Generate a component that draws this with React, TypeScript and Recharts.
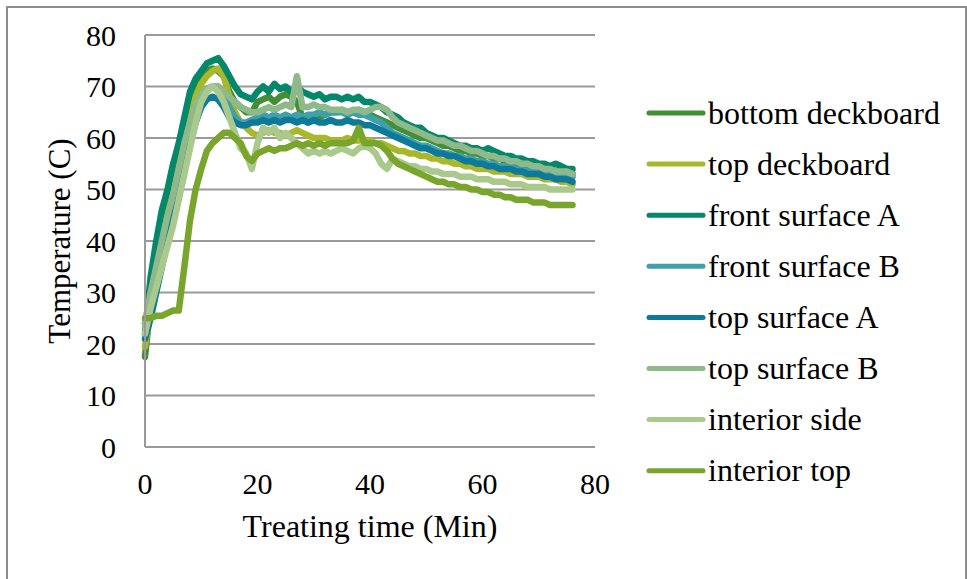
import { LineChart, Line, XAxis, YAxis, CartesianGrid, Legend } from "recharts"

// treating time, minutes
const minutes = [
  0, 1, 2, 3, 4, 5, 6, 7, 8, 9, 10, 11, 12, 13, 14, 15, 16, 17, 18, 19,
  20, 21, 22, 23, 24, 25, 26, 27, 28, 29, 30, 31, 32, 33, 34, 35, 36, 37, 38, 39,
  40, 41, 42, 43, 44, 45, 46, 47, 48, 49, 50, 51, 52, 53, 54, 55, 56, 57, 58, 59,
  60, 61, 62, 63, 64, 65, 66, 67, 68, 69, 70, 71, 72, 73, 74, 75, 76,
]

// temperatures (C) per thermocouple
const bottomDeckboard = [
  17.5, 28, 35, 42, 47, 52, 57, 62, 67, 70, 72, 73, 73.5, 73, 72, 69, 67, 66, 65, 65,
  67, 67.5, 68, 67, 68, 68.5, 68, 67, 64, 63, 63.5, 64, 64.5, 65, 65, 65.5, 65, 65, 65.5, 65,
  64.5, 64, 63.5, 63, 62.5, 62, 61.5, 61, 60.5, 60, 60, 59.5, 59, 58.5, 58.5, 58, 57.5, 57.5, 57, 57,
  56.5, 56.5, 56, 56, 55.5, 55.5, 55, 55, 54.5, 54.5, 54, 54, 54, 53.5, 53.5, 53, 53,
]
const topDeckboard = [
  19.5, 27, 33, 39, 44, 49, 54, 59, 64, 68, 70.5, 72, 73, 73.5, 72, 68, 65, 63, 62, 61,
  60.5, 61, 61.5, 61, 61, 60.5, 61, 61.5, 61, 60.5, 60, 60, 60, 59.5, 59.5, 59.5, 60, 59.5, 59.5, 59.5,
  59.5, 59, 59, 58.5, 58, 57.5, 57.5, 57, 57, 56.5, 56.5, 56, 56, 55.5, 55.5, 55, 55, 54.5, 54.5, 54,
  54, 54, 53.5, 53.5, 53.5, 53, 53, 53, 52.5, 52.5, 52.5, 52, 52, 52, 51.5, 51.5, 51,
]
const frontSurfaceA = [
  22, 33, 40, 46, 50, 55, 59, 64, 69, 71.5, 73, 74.5, 75, 75.5, 74, 72, 70, 68.5, 68, 67.5,
  69, 70, 69, 70.5, 69.5, 70, 69, 70, 69, 68.5, 68, 68.5, 67.5, 68, 68, 67.5, 68, 67.5, 68, 67,
  67, 66.5, 66, 65, 64.5, 64, 63, 62.5, 62, 62, 61, 60.5, 60, 60, 59.5, 59, 58.5, 58.5, 58, 58,
  57.5, 58, 57.5, 57, 56.5, 56.5, 56, 56, 55.5, 55.5, 55, 55, 54.5, 55, 54.5, 54, 54,
]
const frontSurfaceB = [
  24, 28, 33, 38, 43, 47, 52, 57, 62, 66, 68.5, 69.5, 70, 70, 68, 66, 64, 63, 63, 63.5,
  64, 64.5, 64, 64.5, 64, 64.5, 64, 64.5, 64, 64.5, 64.5, 65, 64.5, 65, 65, 65, 64.5, 65, 64.5, 64.5,
  64, 63.5, 63, 62, 61, 60.5, 60, 59.5, 59, 58.5, 58.5, 58, 57.5, 57, 57, 56.5, 56.5, 56, 56, 55.5,
  55.5, 55, 55, 54.5, 54.5, 54.5, 54, 54, 53.5, 53.5, 53.5, 53, 53, 53, 52.5, 52.5, 52.5,
]
const topSurfaceA = [
  21, 25, 30, 35, 40, 44, 49, 54, 59, 63, 66, 67.5, 68, 67.5, 66, 64, 63, 62.5, 62.5, 63,
  63, 63.5, 63, 63.5, 63, 63.5, 63.5, 63, 63.5, 63, 63.5, 63, 63, 63.5, 63, 63, 63.5, 63, 63, 62.5,
  62.5, 62, 61.5, 61, 60.5, 60, 59.5, 59, 58.5, 58, 58, 57.5, 57, 57, 56.5, 56.5, 56, 55.5, 55.5, 55,
  55, 54.5, 54.5, 54, 54, 54, 53.5, 53.5, 53, 53, 53, 52.5, 52.5, 52, 52, 52, 51.5,
]
const topSurfaceB = [
  24, 30, 35, 40, 45, 49, 54, 59, 63, 66.5, 68.5, 69.5, 70, 70, 69, 68, 67, 66, 65.5, 65,
  65, 65.5, 66, 65.5, 66, 66.5, 66, 72, 66, 66, 66.5, 66, 66, 65.5, 65.5, 65.5, 65, 65.5, 65.5, 65,
  65.5, 66, 66, 65.5, 64, 63, 62.5, 62, 61.5, 61, 60.5, 60, 59.5, 59.5, 59, 58.5, 58.5, 58, 57.5, 57.5,
  57, 56.5, 56.5, 56, 56, 55.5, 55.5, 55, 55, 54.5, 54.5, 54, 54, 53.5, 53.5, 53.5, 53,
]
const interiorSide = [
  22, 27, 31, 35, 39, 43, 48, 53, 58, 63, 67, 69, 70, 69, 67, 64, 61, 58, 57, 54,
  59, 62, 61, 62, 60, 61, 60, 59, 58, 57, 57.5, 57, 57.5, 57, 57.5, 58, 57.5, 57, 58, 58.5,
  58, 57, 55, 54, 56, 55.5, 55, 54.5, 54.5, 54, 54, 53.5, 53.5, 53, 53, 53, 52.5, 52.5, 52.5, 52,
  52, 52, 51.5, 51.5, 51.5, 51, 51, 51, 50.5, 50.5, 50.5, 50.5, 50, 50, 50, 50, 50,
]
const interiorTop = [
  25, 25, 25.5, 25.5, 26, 26.5, 26.5, 35, 44, 50, 54, 57.5, 59, 60, 61, 61, 60, 59, 56.5, 55.5,
  57, 57.5, 58, 57.5, 58, 58, 58.5, 59, 58.5, 59, 58.5, 59, 58.5, 59, 59, 59, 59, 59.5, 62, 59,
  59, 59, 58.5, 57.5, 56, 55, 54.5, 54, 53.5, 53, 52.5, 52, 51.5, 51.5, 51, 51, 50.5, 50.5, 50, 50,
  49.5, 49.5, 49, 49, 48.5, 48.5, 48, 48, 48, 47.5, 47.5, 47.5, 47, 47, 47, 47, 47,
]

const xTicks = [0, 20, 40, 60, 80]
const yTicks = [0, 10, 20, 30, 40, 50, 60, 70, 80]

const series = [
  { key: "bottom deckboard", values: bottomDeckboard, color: "#438f36" },
  { key: "top deckboard", values: topDeckboard, color: "#a9b82b" },
  { key: "front surface A", values: frontSurfaceA, color: "#05876a" },
  { key: "front surface B", values: frontSurfaceB, color: "#3ea0aa" },
  { key: "top surface A", values: topSurfaceA, color: "#0f799a" },
  { key: "top surface B", values: topSurfaceB, color: "#8fb98a" },
  { key: "interior side", values: interiorSide, color: "#a9ca8c" },
  { key: "interior top", values: interiorTop, color: "#79a52c" },
]

const data = minutes.map((t, i) => {
  const row: Record<string, number> = { t }
  series.forEach((s) => {
    row[s.key] = s.values[i]
  })
  return row
})

const FONT = "'Liberation Serif', 'Times New Roman', serif"
const GRID = "#9a9a9a"

function LegendBox() {
  return (
    <svg width={320} height={410} style={{ fontFamily: FONT }}>
      {series.map((s, i) => {
        const cy = 23 + i * 51.1
        return (
          <g key={s.key}>
            <line x1={4} x2={58} y1={cy} y2={cy} stroke={s.color} strokeWidth={5} strokeLinecap="round" />
            <text x={63} y={cy + 10.5} fontSize={32} fill="#000">
              {s.key}
            </text>
          </g>
        )
      })}
    </svg>
  )
}

function YTitle({ viewBox }: any) {
  const x = viewBox.x + 25
  const y = viewBox.y + viewBox.height / 2
  return (
    <text x={x} y={y} transform={`rotate(-90 ${x} ${y})`} textAnchor="middle" fontSize={31} fontFamily={FONT} fill="#000">
      Temperature (C)
    </text>
  )
}

export default function App() {
  return (
    <div
      style={{
        position: "absolute",
        left: 0,
        top: 0,
        width: 967,
        height: 579,
        overflow: "hidden",
        background: "#fff",
        fontFamily: FONT,
      }}
    >
      <div
        style={{
          position: "absolute",
          left: 6,
          top: 6,
          width: 957,
          height: 620,
          border: "2px solid #8c8c8c",
        }}
      />
      <LineChart
        width={967}
        height={579}
        data={data}
        margin={{ top: 35, right: 372, left: 45, bottom: 42 }}
        style={{ position: "absolute", left: 0, top: 0 }}
      >
        <CartesianGrid vertical={false} stroke={GRID} strokeWidth={2} />
        <XAxis
          dataKey="t"
          type="number"
          domain={[0, 80]}
          ticks={xTicks}
          height={90}
          tickLine={false}
          tickSize={0}
          tickMargin={26}
          axisLine={{ stroke: GRID, strokeWidth: 2 }}
          tick={{ fill: "#000", fontSize: 30, fontFamily: FONT }}
          label={{ value: "Treating time (Min)", position: "insideBottom", offset: 0, fill: "#000", fontSize: 32, fontFamily: FONT }}
        />
        <YAxis
          type="number"
          domain={[0, 80]}
          ticks={yTicks}
          width={100}
          tickLine={false}
          tickSize={0}
          tickMargin={29}
          axisLine={{ stroke: GRID, strokeWidth: 2 }}
          tick={{ fill: "#000", fontSize: 30, fontFamily: FONT }}
          label={<YTitle />}
        />
        <Legend
          layout="vertical"
          align="center"
          verticalAlign="middle"
          content={() => <LegendBox />}
          wrapperStyle={{ left: 645, top: 90, width: 320, height: 410 }}
        />
        {series.map((s) => (
          <Line
            key={s.key}
            dataKey={s.key}
            type="linear"
            stroke={s.color}
            strokeWidth={6.5}
            strokeLinejoin="round"
            strokeLinecap="round"
            dot={false}
            activeDot={false}
            isAnimationActive={false}
          />
        ))}
      </LineChart>
    </div>
  )
}
